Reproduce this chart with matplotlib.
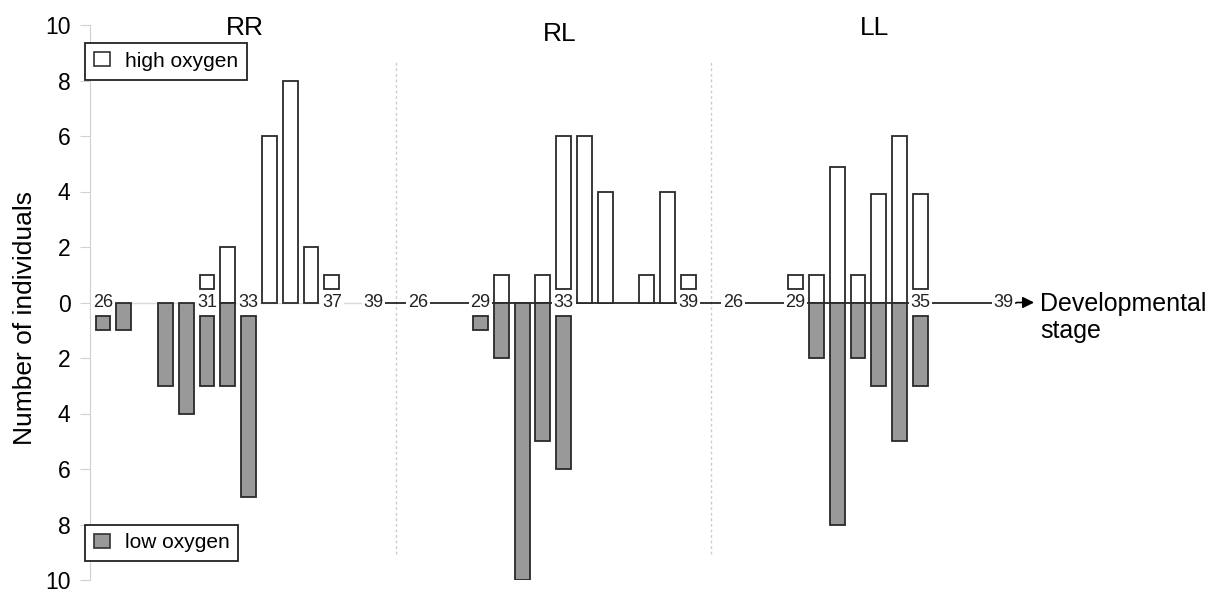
import matplotlib
matplotlib.use("Agg")
import matplotlib.pyplot as plt
from matplotlib.patches import Patch
import numpy as np

plt.rcParams['font.family'] = ['Liberation Sans', 'DejaVu Sans']

# stages 26..39 for each group
stages = list(range(26, 40))
groups = ['RR', 'RL', 'LL']

#            26 27 28 29 30 31 32   33   34 35   36 37 38 39
rr_high = [0, 0, 0, 0, 0, 1, 2, 0, 6, 8, 2, 1, 0, 0]
rr_low = [1, 1, 0, 3, 4, 3, 3, 7, 0, 0, 0, 0, 0, 0]
rl_high = [0, 0, 0, 0, 1, 0, 1, 6, 6, 4, 0, 1, 4, 1]
rl_low = [0, 0, 0, 1, 2, 10, 5, 6, 0, 0, 0, 0, 0, 0]
ll_high = [0, 0, 0, 1, 1, 4.9, 1, 3.9, 6, 3.9, 0, 0, 0, 0]
ll_low = [0, 0, 0, 0, 2, 8, 2, 3, 5, 3, 0, 0, 0, 0]

high = [rr_high, rl_high, ll_high]
low = [rr_low, rl_low, ll_low]

# stages printed on the axis for each group
stage_labels = [[26, 31, 33, 37, 39], [26, 29, 33, 39], [26, 29, 35, 39]]

panel_step = 15.15   # distance between group origins, in stage units
label_gap = 0.5      # bars at labelled stages start off the axis


def pos(panel, stage):
    return panel * panel_step + (stage - 26)


fig = plt.figure(figsize=(12.19, 5.92), dpi=100)
ax = fig.add_axes([90 / 1219, 12 / 592, 950 / 1219, 555 / 592])
ax.set_xlim(-0.625, 45.05)
ax.set_ylim(-10, 10)

# zero line: faint in the first group, black afterwards, arrow at the end
ax.plot([-0.625, pos(0, 39)], [0, 0], color='#d9d9d9', lw=1, zorder=1)
ax.plot([pos(0, 39), pos(2, 39) + 0.6], [0, 0], color='black', lw=1.1, zorder=1)
ax.annotate('', xy=(pos(2, 39) + 1.6, 0), xytext=(pos(2, 39) + 0.5, 0),
            arrowprops=dict(arrowstyle='-|>', color='black', lw=1.2,
                            mutation_scale=17), zorder=2)

# separators between groups
for k in (1, 2):
    xs = (pos(k - 1, 39) + pos(k, 26)) / 2
    ax.vlines(xs, -9.05, 8.75, colors='#cccccc', linestyles=(0, (2, 2)), lw=1, zorder=0)

width = 0.72
for k in range(3):
    for i, s in enumerate(stages):
        off = label_gap if s in stage_labels[k] else 0
        if high[k][i] > 0:
            ax.bar(pos(k, s), high[k][i] - off, bottom=off, width=width,
                   color='white', edgecolor='#2a2a2a', lw=1.3, zorder=3)
        if low[k][i] > 0:
            ax.bar(pos(k, s), -(low[k][i] - off), bottom=-off, width=width,
                   color='#999999', edgecolor='#2a2a2a', lw=1.3, zorder=3)
    for s in stage_labels[k]:
        ax.text(pos(k, s), 0, str(s), ha='center', va='center', fontsize=13,
                color='#222222', zorder=5,
                bbox=dict(boxstyle='square,pad=0.1', fc='white', ec='none'))

# group titles
title_y = [9.9, 9.68, 9.9]
for k, g in enumerate(groups):
    ax.text(pos(k, 32.8), title_y[k], g, ha='center', va='center', fontsize=19)

ax.text(pos(2, 39) + 1.75, -0.55, 'Developmental\nstage', ha='left', va='center',
        fontsize=18, linespacing=1.15, clip_on=False)

# axes styling
for sp in ('top', 'right', 'bottom'):
    ax.spines[sp].set_visible(False)
ax.spines['left'].set_color('#d0d0d0')
ax.set_xticks([])
yt = np.arange(-10, 11, 2)
ax.set_yticks(yt)
ax.set_yticklabels([str(abs(v)) for v in yt], fontsize=16.5)
ax.tick_params(axis='y', length=7, color='#d0d0d0', pad=7)

fig.text(25 / 1219, 1 - 318 / 592, 'Number of individuals', rotation=90,
         ha='center', va='center', fontsize=19)

# legends
leg_kw = dict(fontsize=15, frameon=True, fancybox=False, framealpha=1,
              edgecolor='#222222', handlelength=0.8, handleheight=0.65,
              handletextpad=0.7, borderpad=0.42, borderaxespad=0,
              bbox_transform=fig.transFigure)
leg1 = ax.legend(handles=[Patch(facecolor='white', edgecolor='#333333', lw=1.2,
                                label='high oxygen')],
                 loc='upper left', bbox_to_anchor=(85 / 1219, 1 - 43 / 592), **leg_kw)
leg1.get_frame().set_linewidth(1.3)
ax.add_artist(leg1)
leg2 = ax.legend(handles=[Patch(facecolor='#999999', edgecolor='#333333', lw=1.2,
                                label='low oxygen')],
                 loc='lower left', bbox_to_anchor=(85 / 1219, 1 - 561 / 592), **leg_kw)
leg2.get_frame().set_linewidth(1.3)

fig.savefig('out.png', dpi=100)
